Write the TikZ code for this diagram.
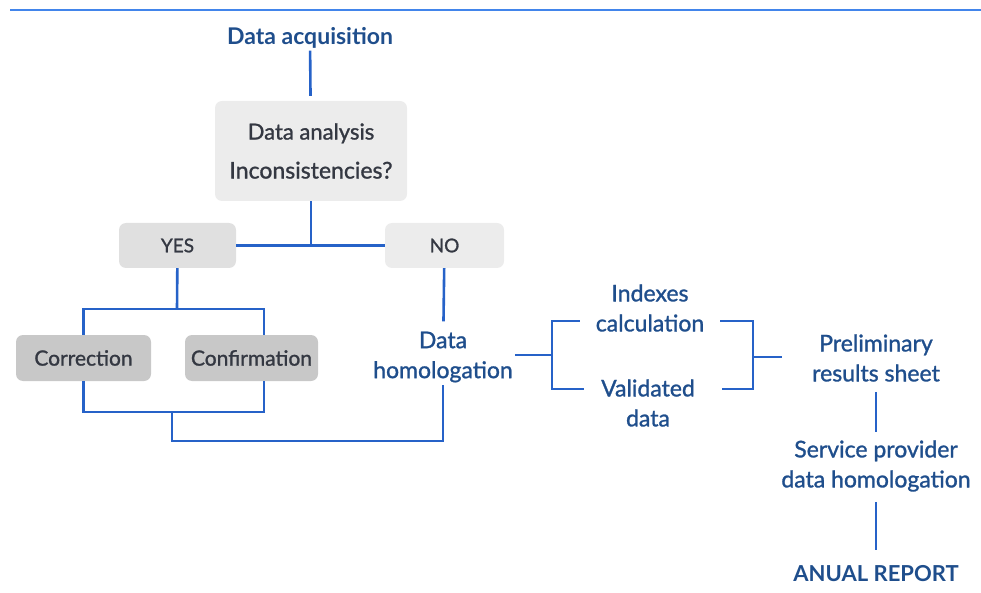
\documentclass[tikz,border=0pt]{standalone}
\usepackage{fontspec}
\setmainfont{Lato}
\newfontfamily\medfont{Lato}[FakeBold=1.2]
\usetikzlibrary{positioning}

\definecolor{txtblue}{RGB}{31,78,140}
\definecolor{lnblue}{RGB}{38,98,200}
\definecolor{topblue}{RGB}{66,133,235}
\definecolor{boxtxt}{RGB}{52,56,66}
\definecolor{boxA}{RGB}{236,236,236}
\definecolor{boxB}{RGB}{224,224,224}
\definecolor{boxC}{RGB}{200,200,200}

\tikzset{
	lbl/.style={text=txtblue, font=\medfont\fontsize{23}{30}\selectfont, align=center, inner sep=2pt},
	bigl/.style={text=txtblue, font=\fontsize{23}{30}\selectfont\bfseries, inner sep=2pt},
	grybox/.style={rounded corners=7pt, text=boxtxt, font=\medfont\fontsize{21}{24}\selectfont,
		align=center, minimum height=45pt},
	link/.style={draw=lnblue, line width=2.6pt},
}

\begin{document}
\begin{tikzpicture}[x=1pt, y=-1pt]
	\useasboundingbox (0,0) rectangle (981,593);
	\coordinate (ruleL) at (10,10);
	\coordinate (ruleR) at (981,10);
	\draw[topblue, line width=1.2pt] (ruleL) -- (ruleR);

	\node[bigl] (acq) at (310,38) {Data acquisition};
	\node[grybox, fill=boxA, minimum width=192pt, minimum height=100pt] (ana) at (311,151)
		{{\fontsize{22}{24}\selectfont Data analysis}\\[15pt]{\fontsize{23}{24}\selectfont Inconsistencies?}};
	\node[grybox, fill=boxB, minimum width=117pt, font=\medfont\fontsize{19}{24}\selectfont] (yes) at (177.5,245.5) {YES};
	\node[grybox, fill=boxA, minimum width=119pt, font=\medfont\fontsize{19}{24}\selectfont] (no) at (444.5,245.5) {NO};
	\node[grybox, fill=boxC, minimum width=135pt, minimum height=46pt] (corr) at (83.5,358) {Correction};
	\node[grybox, fill=boxC, minimum width=133pt, minimum height=46pt] (conf) at (251.5,358) {Confirmation};

	\node[lbl] (hom) at (443,357) {Data\\homologation};
	\node[lbl, inner xsep=16pt] (idx) at (650,308) {Indexes\\calculation};
	\node[lbl, inner xsep=17pt] (val) at (648,403) {Validated\\data};
	\node[lbl] (prel) at (876,358) {Preliminary\\results sheet};
	\node[lbl] (serv) at (876,466) {Service provider\\data homologation};
	\node[bigl, font=\fontsize{22}{30}\selectfont\bfseries] (rep) at (876,574) {ANUAL REPORT};

	\coordinate (ysplit) at (177,309);
	\coordinate (cjoin) at (172,412);
	\coordinate (loop) at (172,441);
	\coordinate (bl) at (552,355);
	\coordinate (b1) at (552,321);
	\coordinate (b2) at (552,389);
	\coordinate (b3) at (753,321);
	\coordinate (b4) at (753,389);
	\coordinate (bm) at (753,357);

	% upper part
	\draw[link, shorten >=5pt] (acq) -- (ana);
	\draw[link] (ana.south) -- (ana.south |- yes.east);
	\draw[link] (yes) -- (no);
	\draw[link] (yes) -- (ysplit);
	\draw[link] (corr.north) |- (ysplit) -| ([xshift=12.5pt]conf.north);

	% back to homologation
	\draw[link] (corr.south) |- (cjoin) -| ([xshift=12.5pt]conf.south);
	\draw[link] (cjoin) -- (loop) -| (hom.south);
	\draw[link, shorten >=8pt] (no) -- (hom);

	% brackets
	\draw[link] (hom.east |- bl) -- (bl);
	\draw[link] (idx.west |- b1) -- (b1) -- (b2) -- (val.west |- b2);
	\draw[link] (idx.east |- b3) -- (b3) -- (b4) -- ([xshift=10pt]val.east |- b4);
	\draw[link] (bm) -- ([xshift=-28pt]prel.west |- bm);

	% lower part
	\draw[link, shorten <=8pt, shorten >=6pt] (prel) -- (serv);
	\draw[link, shorten <=8pt, shorten >=14pt] (serv) -- (rep);
\end{tikzpicture}
\end{document}
